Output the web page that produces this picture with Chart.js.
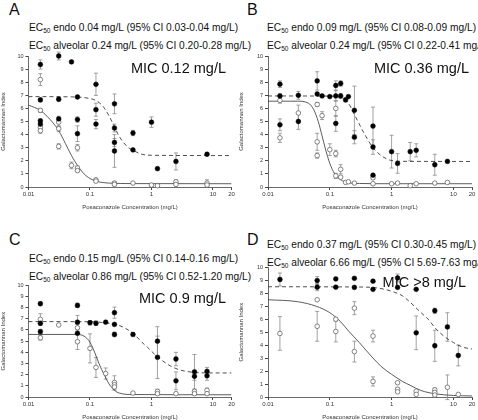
<!DOCTYPE html>
<html lang="en">
<head>
<meta charset="UTF-8" />
<title>Galactomannan Index vs Posaconazole</title>
<script src="https://cdn.jsdelivr.net/npm/chart.js"></script>
<style>
  body { margin: 0; background: #fff; font-family: "Liberation Sans", Arial, sans-serif; color: #111; }
  #wrap { position: relative; width: 478px; height: 420px; overflow: hidden; }
  canvas { position: absolute; }
  .lbl { position: absolute; font-size: 16px; line-height: 16px; }
  .ec { position: absolute; font-size: 10.2px; line-height: 10px; white-space: nowrap; }
  .ec sub { font-size: 6.5px; line-height: 0; vertical-align: -2px; }
  .mic { position: absolute; font-size: 14.5px; line-height: 14px; white-space: nowrap; text-align: right; }
</style>
</head>
<body>
<div id="wrap">
  <div class="lbl" style="left:9px;top:2px">A</div>
  <div class="ec" style="left:29px;top:23px">EC<sub>50</sub> endo 0.04 mg/L (95% CI 0.03-0.04 mg/L)</div>
  <div class="ec" style="left:29px;top:41px">EC<sub>50</sub> alveolar 0.24 mg/L (95% CI 0.20-0.28 mg/L)</div>

  <div class="lbl" style="left:247px;top:2px">B</div>
  <div class="ec" style="left:267px;top:23px">EC<sub>50</sub> endo 0.09 mg/L (95% CI 0.08-0.09 mg/L)</div>
  <div class="ec" style="left:267px;top:41px">EC<sub>50</sub> alveolar 0.24 mg/L (95% CI 0.22-0.41 mg/L)</div>

  <div class="lbl" style="left:9px;top:232px">C</div>
  <div class="ec" style="left:29px;top:254px">EC<sub>50</sub> endo 0.15 mg/L (95% CI 0.14-0.16 mg/L)</div>
  <div class="ec" style="left:29px;top:272px">EC<sub>50</sub> alveolar 0.86 mg/L (95% CI 0.52-1.20 mg/L)</div>

  <div class="lbl" style="left:247px;top:232px">D</div>
  <div class="ec" style="left:267px;top:240px">EC<sub>50</sub> endo 0.37 mg/L (95% CI 0.30-0.45 mg/L)</div>
  <div class="ec" style="left:267px;top:258px">EC<sub>50</sub> alveolar 6.66 mg/L (95% CI 5.69-7.63 mg/L)</div>

  <canvas id="cA"></canvas>
  <canvas id="cB"></canvas>
  <canvas id="cC"></canvas>
  <canvas id="cD"></canvas>

  <div class="mic" style="right:252px;top:61px">MIC 0.12 mg/L</div>
  <div class="mic" style="right:9px;top:61px">MIC 0.36 mg/L</div>
  <div class="mic" style="right:252px;top:291px">MIC 0.9 mg/L</div>
  <div class="mic" style="right:12px;top:275px">MIC &gt;8 mg/L</div>
</div>

<script>
  // [concentration, GM index, error] ; filled = alveolar, open = endothelial
  const aAlveolar = [
    [0.0156, 9.35, 0.35], [0.0156, 6.65, 0.15], [0.0156, 5.05, 0.15], [0.0156, 4.8, 0.15],
    [0.031, 10.0, 0.3], [0.031, 6.7, 0.15], [0.031, 5.2, 0.2],
    [0.05, 9.55, 0],
    [0.0625, 6.87, 0], [0.0625, 5.15, 0.2], [0.0625, 4.07, 0.6],
    [0.125, 7.84, 0.85], [0.125, 5.9, 0.5], [0.125, 4.8, 0.35],
    [0.25, 6.35, 0.75], [0.25, 4.5, 0.3], [0.25, 3.4, 0.3], [0.25, 2.75, 1.25],
    [0.5, 4.12, 0.2], [0.5, 2.83, 0],
    [1, 4.95, 0.4], [1.25, 1.4, 0], [2.5, 1.95, 0.65], [8, 2.5, 0]
  ];
  const aEndo = [
    [0.0156, 8.2, 0.45], [0.0156, 5.85, 0.15], [0.0156, 4.55, 0.2], [0.0156, 4.3, 0.2],
    [0.031, 4.95, 0.3], [0.031, 4.45, 0.2], [0.031, 3.1, 0.2],
    [0.05, 1.65, 0.25],
    [0.0625, 3.0, 0.25], [0.0625, 1.45, 0.15], [0.0625, 1.25, 0.1],
    [0.125, 0.55, 0.1], [0.125, 0.45, 0.1],
    [0.25, 0.3, 0.1], [0.25, 0.2, 0.2],
    [0.5, 0.3, 0], [1, 0.15, 0.1], [1.25, 0.1, 0],
    [2.5, 0.4, 0.15], [2.5, 0.2, 0.1], [8, 0.3, 0.25], [8, 0.15, 0.1]
  ];
  const aAlveolarFit = [[0.01, 6.9], [0.05, 6.88], [0.1, 6.75], [0.125, 6.6], [0.16, 6.2], [0.2, 5.5],
    [0.25, 4.6], [0.3, 3.85], [0.4, 3.1], [0.5, 2.8], [0.7, 2.5], [1, 2.42], [20, 2.4]];
  const aEndoFit = [[0.01, 6.25], [0.0156, 5.85], [0.02, 5.4], [0.025, 4.9], [0.031, 4.3], [0.04, 3.3],
    [0.05, 2.4], [0.0625, 1.65], [0.08, 1.0], [0.1, 0.65], [0.125, 0.45], [0.2, 0.3], [0.5, 0.26], [20, 0.25]];

  const bAlveolar = [
    [0.0156, 7.85, 0.25], [0.0156, 6.95, 0.15], [0.0156, 4.75, 0.45],
    [0.031, 7.0, 0.3], [0.031, 5.0, 0.6],
    [0.0625, 8.1, 0.7], [0.0625, 7.1, 0],
    [0.075, 6.95, 0], [0.1, 6.9, 0],
    [0.125, 7.75, 0.35], [0.125, 6.95, 0.4], [0.125, 4.85, 0.6],
    [0.15, 7.9, 0.2], [0.15, 6.95, 0.2], [0.18, 6.65, 0.15], [0.2, 6.9, 0],
    [0.25, 5.85, 1.85], [0.25, 3.8, 0.5],
    [0.5, 4.65, 1.45], [0.5, 3.05, 0.55], [0.5, 0.9, 0],
    [1, 2.7, 1.25], [1.25, 1.8, 0.75], [2, 2.7, 0.7], [2.5, 2.8, 0.5], [5, 1.7, 0.8], [8, 1.95, 0]
  ];
  const bEndo = [
    [0.0156, 6.6, 0.2], [0.0156, 3.75, 0.35],
    [0.031, 5.65, 0.6],
    [0.0625, 6.3, 0.15], [0.0625, 3.45, 0.65], [0.0625, 2.4, 0.2],
    [0.075, 5.45, 0.3], [0.1, 2.85, 0.45],
    [0.125, 6.0, 0.6], [0.125, 2.55, 0.25], [0.125, 0.85, 0.2],
    [0.15, 1.35, 0.35], [0.15, 0.75, 0], [0.18, 0.35, 0], [0.2, 0.4, 0], [0.25, 0.3, 0],
    [0.5, 0.7, 0.1], [0.5, 0.25, 0], [1, 0.25, 0], [1.25, 0.3, 0], [2, 0.1, 0],
    [2.5, 0.25, 0], [5, 0.3, 0], [8, 0.35, 0]
  ];
  const bAlveolarFit = [[0.01, 6.95], [0.1, 6.94], [0.15, 6.85], [0.2, 6.4], [0.24, 5.7], [0.3, 4.8],
    [0.35, 4.2], [0.5, 3.0], [0.7, 2.35], [1, 2.02], [1.5, 1.96], [20, 1.95]];
  const bEndoFit = [[0.01, 6.55], [0.03, 6.55], [0.045, 6.4], [0.055, 5.9], [0.065, 5.0], [0.075, 3.9],
    [0.085, 2.9], [0.1, 1.8], [0.12, 1.0], [0.15, 0.55], [0.2, 0.33], [0.3, 0.27], [1, 0.25], [20, 0.25]];

  const cAlveolar = [
    [0.0156, 8.35, 0.15], [0.0156, 6.6, 0.2], [0.0156, 5.85, 0.2],
    [0.0625, 8.2, 0.2], [0.0625, 6.7, 0.6], [0.0625, 5.7, 0],
    [0.1, 6.65, 0.2], [0.125, 6.6, 0.2], [0.18, 6.7, 0],
    [0.25, 7.55, 0.5], [0.25, 6.5, 0], [0.25, 5.6, 0.2],
    [0.5, 5.6, 0.15],
    [1.25, 5.0, 1.3], [1.25, 3.55, 1.9],
    [2.5, 3.4, 0.6], [2.5, 1.45, 0.8],
    [5, 2.25, 1.55], [5, 1.85, 0.35], [8, 2.3, 0.35], [8, 1.9, 0.4]
  ];
  const cEndo = [
    [0.0156, 6.95, 0.5], [0.0156, 5.3, 0.2],
    [0.031, 6.45, 0],
    [0.0625, 6.2, 0.3], [0.0625, 4.95, 0.7],
    [0.1, 4.35, 1.3], [0.125, 2.65, 0.9], [0.18, 2.1, 0.5],
    [0.25, 1.3, 0.6], [0.25, 1.1, 0.2], [0.25, 0.9, 0.3],
    [0.5, 0.35, 0], [1.25, 0.5, 0.2], [1.25, 0.3, 0.1], [2.5, 0.3, 0],
    [5, 0.5, 0.2], [5, 0.3, 0.1], [8, 0.6, 0.2], [8, 0.3, 0.1]
  ];
  const cAlveolarFit = [[0.01, 6.75], [0.1, 6.74], [0.2, 6.6], [0.3, 6.4], [0.5, 5.7], [0.7, 4.9],
    [0.86, 4.45], [1.25, 3.6], [2, 2.8], [3, 2.4], [5, 2.2], [8, 2.16], [20, 2.15]];
  const cEndoFit = [[0.01, 5.6], [0.06, 5.6], [0.08, 5.45], [0.1, 4.9], [0.12, 3.95], [0.14, 3.0],
    [0.17, 2.0], [0.2, 1.25], [0.25, 0.6], [0.3, 0.35], [0.5, 0.22], [20, 0.2]];

  const dAlveolar = [
    [0.0156, 9.06, 0.5],
    [0.0625, 8.98, 0.3], [0.0625, 8.47, 0.27],
    [0.125, 9.1, 0], [0.125, 8.47, 0],
    [0.25, 9.15, 0], [0.25, 8.45, 0],
    [0.5, 8.93, 0], [0.5, 8.3, 0],
    [1.25, 9.18, 0.3], [1.25, 8.45, 0],
    [2.5, 8.3, 0], [2.5, 4.95, 1.3],
    [5, 6.65, 0.2], [5, 3.95, 1.2],
    [8, 5.4, 1.1], [12, 3.2, 0.8]
  ];
  const dEndo = [
    [0.0156, 4.9, 1.3],
    [0.0625, 7.5, 0], [0.0625, 5.45, 1.15],
    [0.125, 6.0, 0.1], [0.125, 5.05, 0.8],
    [0.25, 6.85, 0.5], [0.25, 3.5, 0.8],
    [0.5, 4.7, 0.45], [0.5, 1.2, 0.35],
    [1.25, 1.1, 0], [1.25, 0.6, 0.1], [1.25, 0.4, 0],
    [2.5, 0.45, 0], [2.5, 0.2, 0],
    [5, 0.55, 0.15], [5, 0.35, 0.1], [5, 0.15, 0.1],
    [8, 0.75, 0.95], [12, 0.2, 0]
  ];
  const dAlveolarFit = [[0.01, 8.5], [0.3, 8.48], [0.6, 8.4], [1, 8.15], [1.5, 7.8], [2, 7.3], [3, 6.5],
    [4, 5.95], [5, 5.35], [7, 4.7], [10, 4.2], [14, 3.85], [20, 3.7]];
  const dEndoFit = [[0.01, 7.5], [0.03, 7.35], [0.06, 7.0], [0.1, 6.5], [0.15, 5.8], [0.2, 5.1], [0.3, 4.2],
    [0.5, 3.0], [0.7, 2.3], [1, 1.75], [1.5, 1.2], [2, 0.9], [3, 0.5], [5, 0.25], [10, 0.12], [20, 0.08]];

  const FONT = '"Liberation Sans", Arial, sans-serif';
  const X_AXIS_H = 24;

  // draws vertical error bars from dataset.errs
  const errorBars = {
    id: 'errorBars',
    beforeDatasetsDraw(chart) {
      const ctx = chart.ctx;
      const ys = chart.scales.y;
      chart.data.datasets.forEach((ds, i) => {
        if (!ds.errs) return;
        const meta = chart.getDatasetMeta(i);
        ctx.save();
        ctx.strokeStyle = '#8a8a8a';
        ctx.lineWidth = 0.8;
        meta.data.forEach((pt, j) => {
          const e = ds.errs[j];
          if (!e) return;
          const v = ds.data[j].y;
          const top = ys.getPixelForValue(v + e);
          const bot = ys.getPixelForValue(v - e);
          ctx.beginPath();
          ctx.moveTo(pt.x, top); ctx.lineTo(pt.x, bot);
          ctx.moveTo(pt.x - 2, top); ctx.lineTo(pt.x + 2, top);
          ctx.moveTo(pt.x - 2, bot); ctx.lineTo(pt.x + 2, bot);
          ctx.stroke();
        });
        ctx.restore();
      });
    }
  };

  function isMajor(v) {
    const l = Math.log10(v);
    return Math.abs(l - Math.round(l)) < 1e-6 || Math.abs(v - 20) < 1e-6;
  }

  function pts(arr) { return arr.map(p => ({ x: p[0], y: p[1] })); }

  function makePanel(id, box, alv, endo, alvFit, endoFit) {
    const cv = document.getElementById(id);
    cv.width = box.w; cv.height = box.h;
    cv.style.left = box.left + 'px'; cv.style.top = box.top + 'px';
    cv.style.width = box.w + 'px'; cv.style.height = box.h + 'px';

    return new Chart(cv, {
      type: 'scatter',
      data: {
        datasets: [
          { data: pts(alv), errs: alv.map(p => p[2]), pointRadius: 2.4, pointBackgroundColor: '#000',
            pointBorderColor: '#000', pointBorderWidth: 0.5, clip: false },
          { data: pts(endo), errs: endo.map(p => p[2]), pointRadius: 2.3, pointBackgroundColor: '#fff',
            pointBorderColor: '#666', pointBorderWidth: 0.8, clip: false },
          { data: pts(alvFit), showLine: true, pointRadius: 0, borderColor: '#222', borderWidth: 0.8,
            borderDash: [4, 3], cubicInterpolationMode: 'monotone' },
          { data: pts(endoFit), showLine: true, pointRadius: 0, borderColor: '#333', borderWidth: 0.8,
            cubicInterpolationMode: 'monotone' }
        ]
      },
      options: {
        responsive: false,
        animation: false,
        layout: {
          padding: {
            left: 0,
            top: box.plotTop - box.top,
            right: box.left + box.w - box.plotRight,
            bottom: box.top + box.h - box.plotBottom - X_AXIS_H
          }
        },
        plugins: { legend: { display: false }, tooltip: { enabled: false } },
        scales: {
          x: {
            type: 'logarithmic', min: 0.01, max: 20,
            afterFit: s => { s.height = X_AXIS_H; },
            border: { color: '#444', width: 0.8 },
            grid: { drawOnChartArea: false, tickLength: 3,
                    tickColor: c => (c.tick && isMajor(c.tick.value)) ? '#444' : 'rgba(0,0,0,0)' },
            ticks: { autoSkip: false, maxRotation: 0, minRotation: 0, padding: 1, color: '#333',
                     font: { family: FONT, size: 6 },
                     callback: v => isMajor(v) ? String(Number(v.toPrecision(3))) : '' },
            title: { display: true, text: 'Posaconazole Concentration (mg/L)', color: '#333',
                     font: { family: FONT, size: 6 }, padding: 0 }
          },
          y: {
            min: 0, max: 10,
            afterFit: s => { s.width = box.plotLeft - box.left; },
            border: { color: '#444', width: 0.8 },
            grid: { drawOnChartArea: false, tickLength: 3, tickColor: '#444' },
            ticks: { stepSize: 1, padding: 2, color: '#333', font: { family: FONT, size: 5.5 } },
            title: { display: true, text: 'Galactomannan Index', color: '#333',
                     font: { family: FONT, size: 6 }, padding: 0 }
          }
        }
      },
      plugins: [errorBars]
    });
  }

  makePanel('cA', { left: 0, top: 50, w: 238, h: 165, plotLeft: 28.5, plotRight: 231.5, plotTop: 56, plotBottom: 187 },
    aAlveolar, aEndo, aAlveolarFit, aEndoFit);
  makePanel('cB', { left: 238, top: 50, w: 240, h: 165, plotLeft: 268, plotRight: 472, plotTop: 56, plotBottom: 187 },
    bAlveolar, bEndo, bAlveolarFit, bEndoFit);
  makePanel('cC', { left: 0, top: 280, w: 238, h: 140, plotLeft: 28.5, plotRight: 231.5, plotTop: 285, plotBottom: 397 },
    cAlveolar, cEndo, cAlveolarFit, cEndoFit);
  makePanel('cD', { left: 238, top: 262, w: 240, h: 158, plotLeft: 268, plotRight: 472, plotTop: 267, plotBottom: 397 },
    dAlveolar, dEndo, dAlveolarFit, dEndoFit);
</script>
</body>
</html>
